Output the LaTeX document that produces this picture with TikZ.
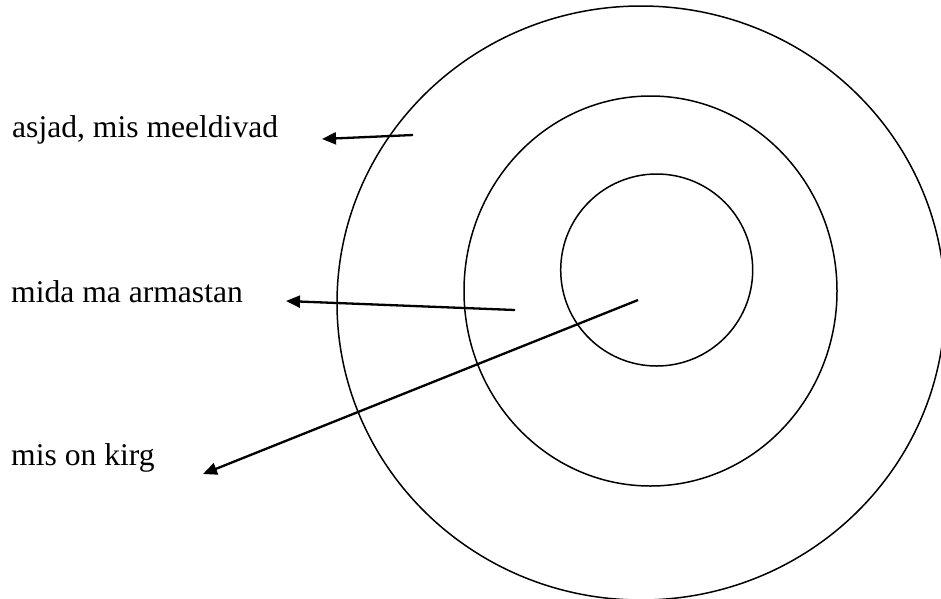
\documentclass[tikz,border=0pt]{standalone}
\usepackage{fontspec}
\setmainfont{Liberation Serif}
\usetikzlibrary{arrows.meta}

\begin{document}
\begin{tikzpicture}[x=1pt, y=-1pt,
          lab/.style={anchor=base west, inner sep=0pt, font=\fontsize{31.6}{38}\selectfont},
          ring/.style={line width=1.5pt, black},
          ptr/.style={line width=2.3pt, -{Triangle[length=14pt, width=12pt]}}
        ]
        % pixel grid of the sheet: 941 x 598
        \useasboundingbox (0,0) rectangle (941,598);
        \clip (0,0) rectangle (941,598);

        % the three rings
        \draw[ring] (641,303) ellipse [x radius=304, y radius=297];
        \draw[ring] (650.5,291) ellipse [x radius=186.5, y radius=195];
        \draw[ring] (656.7,270) circle [radius=96];

        \node[lab] (likes) at (12,137) {asjad, mis meeldivad};
        \node[lab] (loves) at (11,302) {mida ma armastan};
        \node[lab] (passion) at (11,465) {mis on kirg};

        \coordinate (likesfrom) at (413,135);
        \coordinate (likesto) at (322,139);
        \coordinate (lovesfrom) at (515,310);
        \coordinate (lovesto) at (286,301);
        \coordinate (passionfrom) at (638,300);
        \coordinate (passionto) at (203,474);

        \draw[ptr] (likesfrom) -- (likesto);
        \draw[ptr] (lovesfrom) -- (lovesto);
        \draw[ptr] (passionfrom) -- (passionto);
      \end{tikzpicture}
\end{document}
